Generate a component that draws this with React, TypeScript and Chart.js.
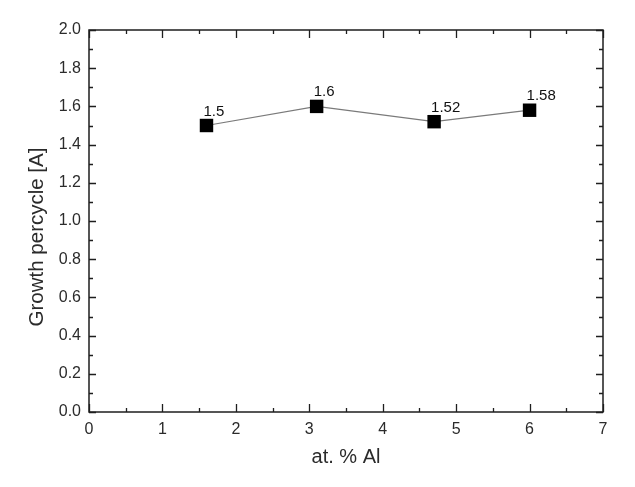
import React, { useEffect, useRef } from 'react';
import { Chart, registerables } from 'chart.js';

Chart.register(...registerables);

const alContent = [1.6, 3.1, 4.7, 6.0];
const growthPerCycle = [1.5, 1.6, 1.52, 1.58];
const pointLabels = ['1.5', '1.6', '1.52', '1.58'];
const xMajorTicks = [0, 1, 2, 3, 4, 5, 6, 7];
const xMinorTicks = [0.5, 1.5, 2.5, 3.5, 4.5, 5.5, 6.5];
const yMajorTicks = [0, 0.2, 0.4, 0.6, 0.8, 1.0, 1.2, 1.4, 1.6, 1.8, 2.0];
const yMinorTicks = [0.1, 0.3, 0.5, 0.7, 0.9, 1.1, 1.3, 1.5, 1.7, 1.9];
const xTitle = 'at. % Al';
const yTitle = 'Growth percycle [A]';

const FONT = '"Liberation Sans", Arial, sans-serif';
const TEXT = '#2b2b2b';
const AXIS = '#1e1e1e';

const frameTicksPlugin = {
  id: 'frameTicks',
  beforeDatasetsDraw(chart: any) {
    const { ctx, chartArea, scales } = chart;
    const { left, right, top, bottom } = chartArea;
    const xs = scales.x;
    const ys = scales.y;
    ctx.save();
    ctx.strokeStyle = AXIS;
    ctx.lineWidth = 1.5;
    ctx.strokeRect(left, top, right - left, bottom - top);
    ctx.lineWidth = 1.3;
    const drawX = (vals: number[], len: number) => {
      vals.forEach((v) => {
        const px = Math.round(xs.getPixelForValue(v)) + 0.5;
        ctx.beginPath();
        ctx.moveTo(px, bottom);
        ctx.lineTo(px, bottom - len);
        ctx.moveTo(px, top);
        ctx.lineTo(px, top + len);
        ctx.stroke();
      });
    };
    const drawY = (vals: number[], len: number) => {
      vals.forEach((v) => {
        const py = Math.round(ys.getPixelForValue(v)) + 0.5;
        ctx.beginPath();
        ctx.moveTo(left, py);
        ctx.lineTo(left + len, py);
        ctx.moveTo(right, py);
        ctx.lineTo(right - len, py);
        ctx.stroke();
      });
    };
    drawX(xMajorTicks, 8);
    drawX(xMinorTicks, 4);
    drawY(yMajorTicks, 7);
    drawY(yMinorTicks, 4);

    // y-axis title (slightly below centre, as in the original)
    ctx.font = `20.5px ${FONT}`;
    ctx.fillStyle = TEXT;
    ctx.textAlign = 'center';
    ctx.textBaseline = 'middle';
    ctx.translate(37, (top + bottom) / 2 + 16);
    ctx.rotate(-Math.PI / 2);
    ctx.fillText(yTitle, 0, 0);
    ctx.restore();
  },
};

const pointLabelPlugin = {
  id: 'pointLabels',
  afterDatasetsDraw(chart: any) {
    const { ctx } = chart;
    const meta = chart.getDatasetMeta(0);
    ctx.save();
    ctx.font = `15px ${FONT}`;
    ctx.fillStyle = '#111';
    ctx.textAlign = 'left';
    ctx.textBaseline = 'alphabetic';
    meta.data.forEach((el: any, i: number) => {
      ctx.fillText(pointLabels[i], el.x - 3, el.y - 10);
    });
    ctx.restore();
  },
};

export default function App() {
  const canvasRef = useRef<HTMLCanvasElement | null>(null);

  useEffect(() => {
    if (!canvasRef.current) return;
    const chart = new Chart(canvasRef.current, {
      type: 'scatter',
      data: {
        datasets: [
          {
            data: alContent.map((x, i) => ({ x, y: growthPerCycle[i] })),
            showLine: true,
            borderColor: '#7a7a7a',
            borderWidth: 1.2,
            backgroundColor: '#000',
            pointStyle: 'rect',
            pointRadius: 9.5,
            pointBorderWidth: 0,
            pointBackgroundColor: '#000',
            pointBorderColor: '#000',
          },
        ],
      },
      options: {
        responsive: false,
        animation: false,
        layout: { padding: { top: 30, right: 32, left: 0, bottom: 0 } },
        plugins: {
          legend: { display: false },
          tooltip: { enabled: false },
        },
        scales: {
          x: {
            type: 'linear',
            min: 0,
            max: 7,
            grid: { display: false, drawTicks: false },
            border: { display: false },
            ticks: {
              stepSize: 1,
              padding: 8,
              color: TEXT,
              font: { family: FONT, size: 16 },
              callback: (v: any) => String(v),
            },
            title: {
              display: true,
              text: xTitle,
              color: TEXT,
              font: { family: FONT, size: 20 },
              padding: { top: 0, bottom: 17.5 },
            },
            afterFit: (scale: any) => {
              scale.height = 75;
            },
          },
          y: {
            type: 'linear',
            min: 0,
            max: 2,
            grid: { display: false, drawTicks: false },
            border: { display: false },
            ticks: {
              stepSize: 0.2,
              padding: 8,
              color: TEXT,
              font: { family: FONT, size: 16 },
              callback: (v: any) => Number(v).toFixed(1),
            },
            title: { display: false },
            afterFit: (scale: any) => {
              scale.width = 89;
            },
          },
        },
      },
      plugins: [frameTicksPlugin, pointLabelPlugin],
    });
    return () => chart.destroy();
  }, []);

  return (
    <div style={{ position: 'fixed', left: 0, top: 0, width: 635, height: 487, background: '#fff' }}>
      <canvas ref={canvasRef} width={635} height={487} />
    </div>
  );
}
